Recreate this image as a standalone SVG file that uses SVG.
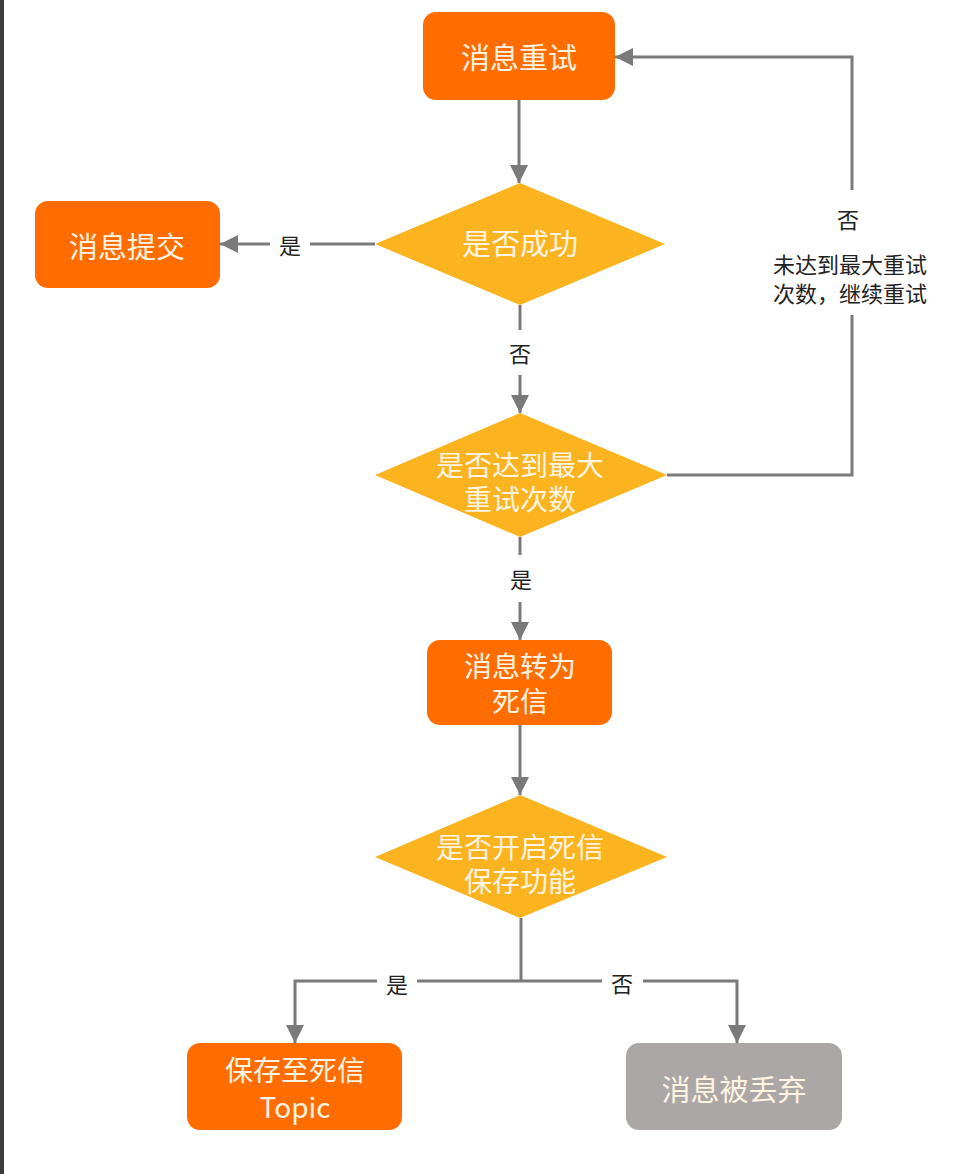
<svg xmlns="http://www.w3.org/2000/svg" width="977" height="1174" viewBox="0 0 977 1174">
<style>
.box{fill:#FF6D00}
.gray{fill:#ABA7A6}
.dia{fill:#FBB41F}
.nt{font-family:"Noto Sans CJK SC","Liberation Sans",sans-serif;font-size:29px;fill:#FFF3E2;text-anchor:middle;dominant-baseline:central}
.nt2{font-family:"Noto Sans CJK SC","Liberation Sans",sans-serif;font-size:28px;fill:#FFF3E2;text-anchor:middle;dominant-baseline:central}
.lb{font-family:"Noto Sans CJK SC","Liberation Sans",sans-serif;font-size:22px;fill:#222;text-anchor:middle;dominant-baseline:central}
.ln{fill:none;stroke:#7A7A7A;stroke-width:3}
</style>
<defs>
<marker id="ah" markerUnits="userSpaceOnUse" markerWidth="20" markerHeight="20" refX="18" refY="9" orient="auto">
<path d="M0,0 L18,9 L0,18 Z" fill="#7A7A7A"/>
</marker>
</defs>
<rect x="0" y="0" width="977" height="1174" fill="#FFFFFF"/>
<rect x="0" y="0" width="4" height="1174" fill="#3C3C3C"/>
<g id="connectors">
<path class="ln" d="M519,100 L519,183" marker-end="url(#ah)"/>
<path class="ln" d="M375,244 L310,244"/>
<path class="ln" d="M270,244 L220,244" marker-end="url(#ah)"/>
<path class="ln" d="M520,305 L520,330"/>
<path class="ln" d="M520,375 L520,413" marker-end="url(#ah)"/>
<path class="ln" d="M667,475 L852,475 L852,315"/>
<path class="ln" d="M852,190 L852,57 L615,57" marker-end="url(#ah)"/>
<path class="ln" d="M520,537 L520,555"/>
<path class="ln" d="M520,602 L520,640" marker-end="url(#ah)"/>
<path class="ln" d="M520,725 L520,795" marker-end="url(#ah)"/>
<path class="ln" d="M521,918 L521,981"/>
<path class="ln" d="M377,981 L295,981 L295,1043" marker-end="url(#ah)"/>
<path class="ln" d="M417,981 L602,981"/>
<path class="ln" d="M643,981 L737,981 L737,1043" marker-end="url(#ah)"/>
<text class="lb" x="290" y="244">是</text>
<text class="lb" x="520" y="352">否</text>
<text class="lb" x="848" y="218">否</text>
<text class="lb" x="850" y="263">未达到最大重试</text>
<text class="lb" x="850" y="292">次数，继续重试</text>
<text class="lb" x="521" y="578">是</text>
<text class="lb" x="397" y="983">是</text>
<text class="lb" x="622" y="982">否</text>
</g>
<g id="n-retry">
<rect class="box" x="423" y="12" width="192" height="88" rx="13"/>
<text class="nt" x="519" y="56">消息重试</text>
</g>
<g id="n-success">
<polygon class="dia" points="520,183 665,244 520,305 375,244"/>
<text class="nt" x="520" y="242">是否成功</text>
</g>
<g id="n-commit">
<rect class="box" x="35" y="201" width="185" height="87" rx="13"/>
<text class="nt" x="127" y="245">消息提交</text>
</g>
<g id="n-max">
<polygon class="dia" points="520,413 667,475 520,537 375,475"/>
<text class="nt2" x="520" y="464">是否达到最大</text>
<text class="nt2" x="520" y="498">重试次数</text>
</g>
<g id="n-dead">
<rect class="box" x="427" y="640" width="185" height="85" rx="13"/>
<text class="nt2" x="520" y="665">消息转为</text>
<text class="nt2" x="520" y="700">死信</text>
</g>
<g id="n-enable">
<polygon class="dia" points="520,795 667,857 520,918 375,857"/>
<text class="nt2" x="520" y="846">是否开启死信</text>
<text class="nt2" x="520" y="880">保存功能</text>
</g>
<g id="n-save">
<rect class="box" x="187" y="1043" width="215" height="87" rx="13"/>
<text class="nt2" x="295" y="1069">保存至死信</text>
<text class="nt2" x="295" y="1106">Topic</text>
</g>
<g id="n-drop">
<rect class="gray" x="626" y="1043" width="216" height="87" rx="13"/>
<text class="nt" x="734" y="1088">消息被丢弃</text>
</g>
</svg>
